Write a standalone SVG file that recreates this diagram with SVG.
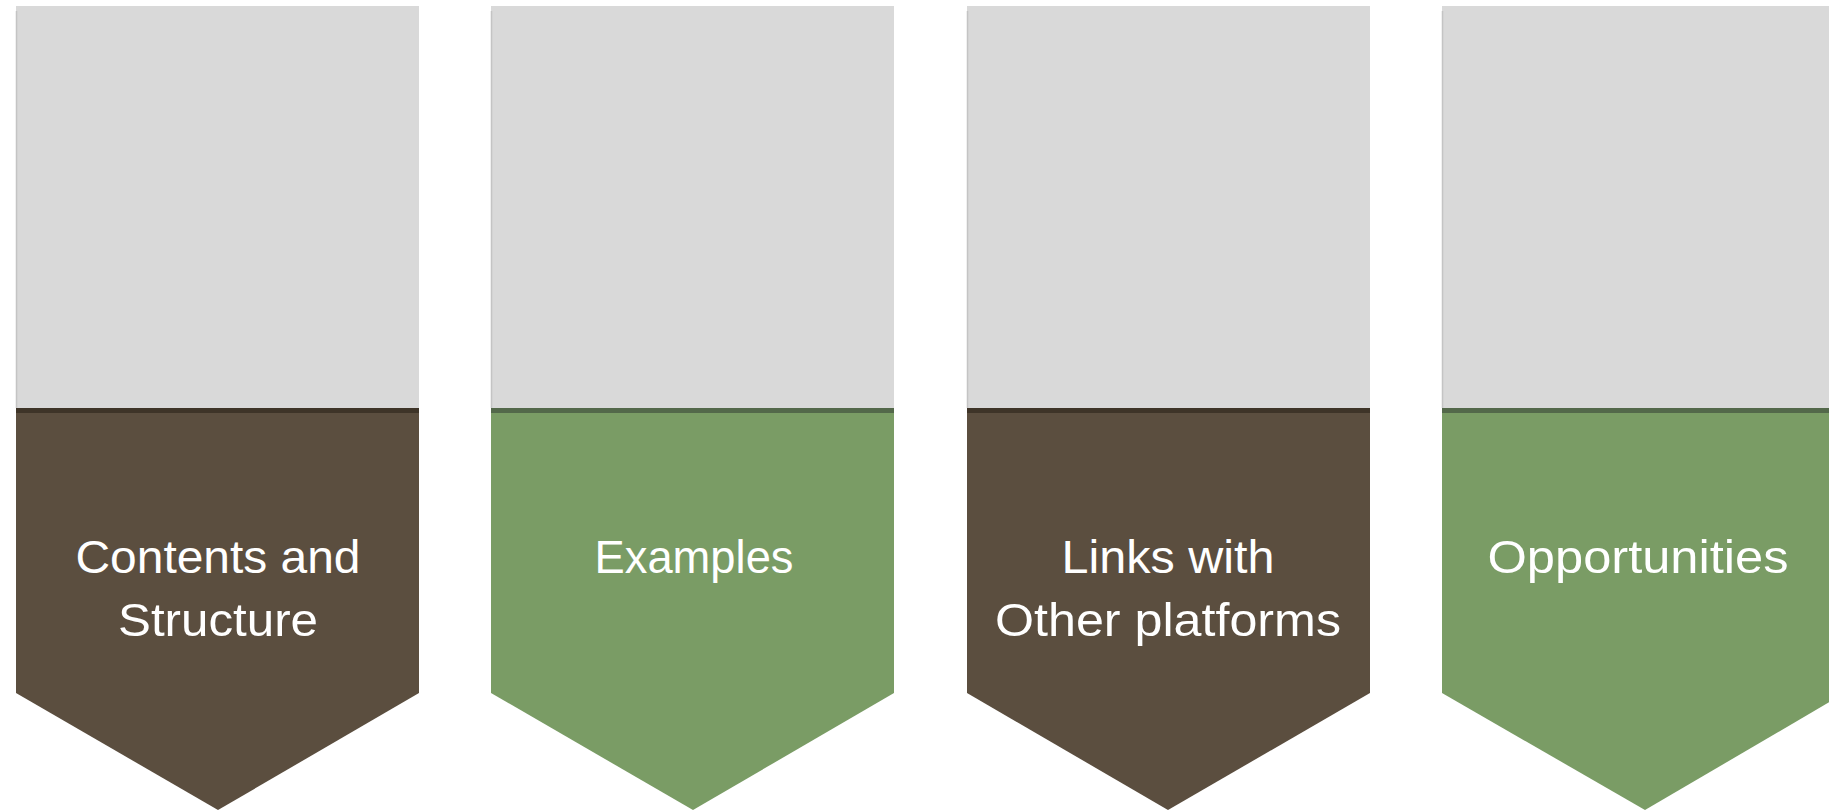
<svg xmlns="http://www.w3.org/2000/svg" width="1829" height="810" viewBox="0 0 1829 810">
  <style>
    .top { fill: #d9d9d9; }
    .edge { stroke: #c4c4c4; stroke-width: 1.5; }
    .brown { fill: #5b4e3f; }
    .green { fill: #7a9c65; }
    .bandB { fill: #3e3428; }
    .bandG { fill: #53684a; }
    .lbl { font-family: "Liberation Sans", Arial, sans-serif; font-size: 47px; fill: #ffffff; text-anchor: middle; }
  </style>
  <rect width="1829" height="810" fill="#ffffff"/>
  <g id="connectors"></g>
  <g id="node-contents">
    <rect class="top" x="16" y="6" width="403" height="403"/>
    <line class="edge" x1="16.5" y1="11" x2="16.5" y2="408"/>
    <polygon class="brown" points="16,408 419,408 419,693 218,810 16,693"/>
    <rect class="bandB" x="16" y="408" width="403" height="5"/>
    <text class="lbl" x="218" y="573" textLength="285" lengthAdjust="spacingAndGlyphs">Contents and</text>
    <text class="lbl" x="218" y="636" textLength="200" lengthAdjust="spacingAndGlyphs">Structure</text>
  </g>
  <g id="node-examples">
    <rect class="top" x="491" y="6" width="403" height="403"/>
    <line class="edge" x1="491.5" y1="11" x2="491.5" y2="408"/>
    <polygon class="green" points="491,408 894,408 894,693 693,810 491,693"/>
    <rect class="bandG" x="491" y="408" width="403" height="5"/>
    <text class="lbl" x="694" y="573" textLength="199" lengthAdjust="spacingAndGlyphs">Examples</text>
  </g>
  <g id="node-links">
    <rect class="top" x="967" y="6" width="403" height="403"/>
    <line class="edge" x1="967.5" y1="11" x2="967.5" y2="408"/>
    <polygon class="brown" points="967,408 1370,408 1370,693 1168,810 967,693"/>
    <rect class="bandB" x="967" y="408" width="403" height="5"/>
    <text class="lbl" x="1168" y="573" textLength="213" lengthAdjust="spacingAndGlyphs">Links with</text>
    <text class="lbl" x="1168" y="636" textLength="346" lengthAdjust="spacingAndGlyphs">Other platforms</text>
  </g>
  <g id="node-opportunities">
    <rect class="top" x="1442" y="6" width="403" height="403"/>
    <line class="edge" x1="1442.5" y1="11" x2="1442.5" y2="408"/>
    <polygon class="green" points="1442,408 1845,408 1845,693 1645,810 1442,693"/>
    <rect class="bandG" x="1442" y="408" width="403" height="5"/>
    <text class="lbl" x="1638" y="573" textLength="301" lengthAdjust="spacingAndGlyphs">Opportunities</text>
  </g>
</svg>
